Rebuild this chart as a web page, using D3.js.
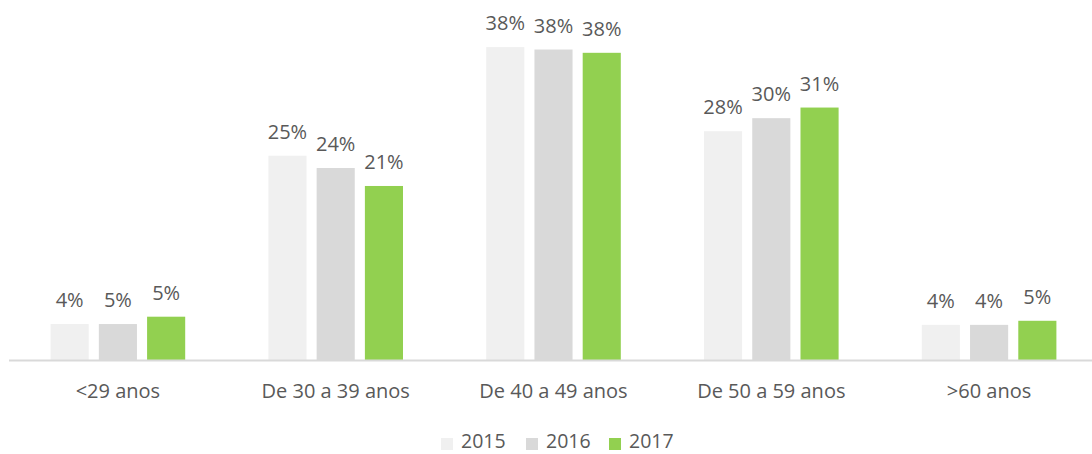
<!DOCTYPE html>
<meta charset="utf-8">
<script src="https://cdn.jsdelivr.net/npm/d3@7"></script>
<style>
  body { margin: 0; background: #fff; }
  text { font-family: "Open Sans", sans-serif; fill: #595959; }
</style>
<svg></svg>
<script>
    // data
    var categories = ['<29 anos', 'De 30 a 39 anos', 'De 40 a 49 anos', 'De 50 a 59 anos', '>60 anos'];
    var years = ['2015', '2016', '2017'];
    var v2015 = [4.4, 25.0, 38.3, 28.0, 4.3];
    var v2016 = [4.4, 23.5, 38.0, 29.6, 4.3];
    var v2017 = [5.3, 21.3, 37.6, 30.9, 4.8];
    var labels2015 = ['4%', '25%', '38%', '28%', '4%'];
    var labels2016 = ['5%', '24%', '38%', '30%', '4%'];
    var labels2017 = ['5%', '21%', '38%', '31%', '5%'];
    var colors = ['#f0f0f0', '#d9d9d9', '#92d050'];

    var series = [v2015, v2016, v2017];
    var seriesLabels = [labels2015, labels2016, labels2017];

    var width = 1092, height = 454;
    var svg = d3.select('svg').attr('width', width).attr('height', height);

    var x = d3.scaleBand().domain(categories).range([9, 1098]);
    var inner = d3.scaleBand().domain(years).range([0, 134.6]).paddingInner(0.21);
    var y = d3.scaleLinear().domain([0, 40]).range([360, 360 - 8.17 * 40]);

    var rows = [];
    categories.forEach((c, i) => {
        years.forEach((yr, j) => {
            rows.push({ cat: c, year: yr, j: j, value: series[j][i], label: seriesLabels[j][i] });
        });
    });

    var bx = d => x(d.cat) + x.bandwidth() / 2 - 67.3 + inner(d.year);

    svg.selectAll('rect.bar').data(rows).enter().append('rect')
        .attr('class', 'bar')
        .attr('x', bx)
        .attr('y', d => y(d.value))
        .attr('width', inner.bandwidth())
        .attr('height', d => y(0) - y(d.value))
        .attr('fill', d => colors[d.j]);

    svg.selectAll('text.val').data(rows).enter().append('text')
        .attr('class', 'val')
        .attr('x', d => bx(d) + inner.bandwidth() / 2)
        .attr('y', d => y(d.value) - 17)
        .attr('text-anchor', 'middle')
        .style('font-size', '20px')
        .text(d => d.label);

    // category axis
    svg.append('line')
        .attr('x1', 9).attr('x2', 1098)
        .attr('y1', y(0) + 0.5).attr('y2', y(0) + 0.5)
        .attr('stroke', '#d9d9d9').attr('stroke-width', 2);

    svg.selectAll('text.cat').data(categories).enter().append('text')
        .attr('class', 'cat')
        .attr('x', d => x(d) + x.bandwidth() / 2)
        .attr('y', 398)
        .attr('text-anchor', 'middle')
        .style('font-size', '20px')
        .text(d => d);

    // legend
    var legendX = [441, 526, 609];
    var legend = svg.selectAll('g.legend').data(years).enter().append('g')
        .attr('class', 'legend')
        .attr('transform', (d, i) => 'translate(' + legendX[i] + ',438)');
    legend.append('rect')
        .attr('width', 12).attr('height', 12)
        .attr('fill', (d, i) => colors[i]);
    legend.append('text')
        .attr('x', 20).attr('y', 10)
        .style('font-size', '19.5px')
        .text(d => d);
</script>
